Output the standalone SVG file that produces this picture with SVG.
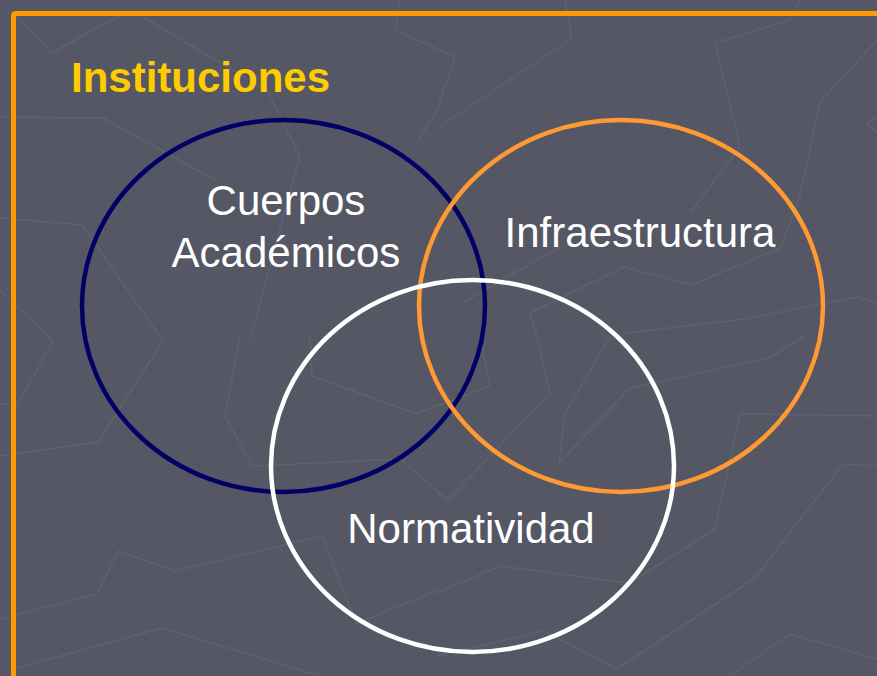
<svg xmlns="http://www.w3.org/2000/svg" width="877" height="676" viewBox="0 0 877 676">
  <style>
    .bg { fill: #555765; }
    .pat { fill: none; stroke: #5f6170; stroke-width: 1.5; stroke-linejoin: round; }
    .frame { fill: none; stroke: #FF9900; stroke-width: 5; }
    .ring { fill: none; stroke-width: 4.5; }
    .lbl { font-family: "Liberation Sans", Arial, sans-serif; font-size: 42px; fill: #FFFFFF; text-anchor: middle; }
    .title { font-family: "Liberation Sans", Arial, sans-serif; font-size: 42px; font-weight: bold; fill: #FFCC00; }
  </style>
  <rect class="bg" x="0" y="0" width="877" height="676"/>
  <g id="background-pattern">
    <polyline class="pat" points="18,17 52,53 120,15"/>
    <polyline class="pat" points="143,17 267,90 300,157 285,210 250,340"/>
    <polyline class="pat" points="0,117 103,118 215,180"/>
    <polyline class="pat" points="0,218 82,225 163,341 98,442 0,456"/>
    <polyline class="pat" points="0,290 53,341 18,404 0,404"/>
    <polyline class="pat" points="400,0 395,30 455,57 437,110 417,143"/>
    <polyline class="pat" points="565,0 572,38 437,128"/>
    <polyline class="pat" points="800,0 790,20 715,43 740,147 690,213"/>
    <polyline class="pat" points="877,40 820,102 799,200 780,248 692,285 624,267 530,313 537,336 550,393 449,499 437,493"/>
    <polyline class="pat" points="877,117 867,123 877,133"/>
    <polyline class="pat" points="462,303 560,247"/>
    <polyline class="pat" points="877,303 857,297 739,320 624,333"/>
    <polyline class="pat" points="240,336 225,416 252,466 400,459 440,493"/>
    <polyline class="pat" points="310,336 312,376 417,414 440,404"/>
    <polyline class="pat" points="0,619 97,594 118,551 175,571 322,536 357,626"/>
    <polyline class="pat" points="13,669 162,628 320,676"/>
    <polyline class="pat" points="358,623 440,589"/>
    <polyline class="pat" points="480,336 490,386 437,406"/>
    <polyline class="pat" points="610,336 565,414 559,463 630,388 769,358 804,336"/>
    <polyline class="pat" points="877,416 740,414 715,529 630,583"/>
    <polyline class="pat" points="437,593 500,566 627,583"/>
    <polyline class="pat" points="877,466 843,464 755,578 617,669 544,631 437,656"/>
    <polyline class="pat" points="730,676 790,634 877,659"/>
  </g>
  <rect class="frame" x="13.5" y="13.5" width="900" height="700" rx="2"/>
  <text class="title" x="71" y="92">Instituciones</text>
  <g id="connectors"></g>
  <g id="cuerpos-academicos">
    <ellipse class="ring" cx="283.5" cy="306" rx="201.5" ry="186" stroke="#000066"/>
    <text class="lbl" x="286" y="215">Cuerpos</text>
    <text class="lbl" x="286" y="267">Académicos</text>
  </g>
  <g id="infraestructura">
    <ellipse class="ring" cx="621" cy="306" rx="202" ry="186" stroke="#FF9933"/>
    <text class="lbl" x="640" y="247">Infraestructura</text>
  </g>
  <g id="normatividad">
    <ellipse class="ring" cx="472.5" cy="466" rx="201.5" ry="186" stroke="#FFFFFF"/>
    <text class="lbl" x="471" y="543">Normatividad</text>
  </g>
</svg>
